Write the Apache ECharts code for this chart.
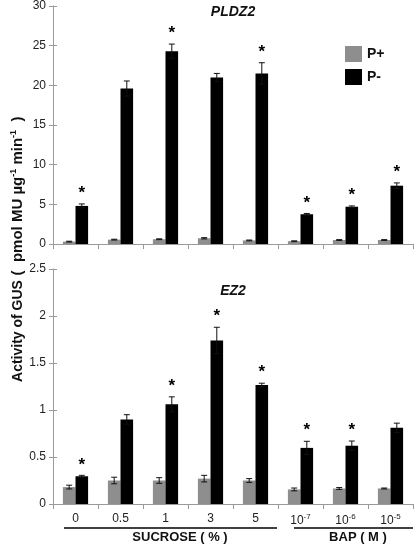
<!DOCTYPE html>
<html>
<head>
<meta charset="utf-8">
<script src="https://cdn.jsdelivr.net/npm/echarts@6/dist/echarts.min.js"></script>
<style>html,body{margin:0;padding:0;background:#fff;}#c{width:418px;height:546px;}</style>
</head>
<body>
<div id="c"></div>
<script>
const categories = ['0', '0.5', '1', '3', '5', '10^-7', '10^-6', '10^-5'];
const pldzPplus = [0.3, 0.55, 0.6, 0.72, 0.45, 0.35, 0.5, 0.5];
const pldzPplusErr = [0.05, 0.05, 0.05, 0.08, 0.05, 0.05, 0.05, 0.05];
const pldzPminus = [4.8, 19.6, 24.3, 21.0, 21.5, 3.75, 4.7, 7.35];
const pldzPminusErr = [0.25, 0.95, 0.9, 0.5, 1.35, 0.1, 0.1, 0.35];
const pldzStars = [1, 0, 1, 0, 1, 1, 1, 1];
const ezPplus = [0.18, 0.25, 0.25, 0.27, 0.25, 0.155, 0.165, 0.165];
const ezPplusErr = [0.02, 0.035, 0.03, 0.035, 0.02, 0.015, 0.01, 0.005];
const ezPminus = [0.295, 0.9, 1.06, 1.74, 1.265, 0.597, 0.62, 0.81];
const ezPminusErr = [0.01, 0.05, 0.08, 0.14, 0.02, 0.07, 0.05, 0.05];
const ezStars = [1, 0, 1, 1, 1, 1, 1, 0];
const pldzTicks = [0, 30, 5];
const ezTicks = [0, 2.5, 0.5];

const FONT = 'Liberation Sans, Arial, sans-serif';
const GRAY = '#8e8e8e';
const AXIS = '#9a9a9a';
const CAT_GAP = 0.44;

const chart = echarts.init(document.getElementById('c'));

function errRender(sign) {
  return function (params, api) {
    const i = api.value(0), v = api.value(1), e = api.value(2), star = api.value(3);
    const band = api.size([1, 0])[0];
    const bw = band * (1 - CAT_GAP) / 2;
    const c = api.coord([i, v]);
    const cx = c[0] + sign * bw / 2;
    const top = api.coord([i, v + e])[1];
    const bot = api.coord([i, v - e])[1];
    const col = '#111';
    const children = [
      {type: 'line', shape: {x1: cx, y1: bot, x2: cx, y2: top}, style: {stroke: col, lineWidth: 1}},
      {type: 'line', shape: {x1: cx - 3, y1: top, x2: cx + 3, y2: top}, style: {stroke: col, lineWidth: 1}},
      {type: 'line', shape: {x1: cx - 3, y1: bot, x2: cx + 3, y2: bot}, style: {stroke: col, lineWidth: 1}}
    ];
    if (star) {
      children.push({type: 'text', style: {text: '*', x: cx, y: top - 2, align: 'center', verticalAlign: 'bottom',
        font: 'bold 17px ' + FONT, fill: '#000'}});
    }
    return {type: 'group', children: children};
  };
}

function mk(vals, errs, stars) {
  return categories.map((c, i) => [i, vals[i], errs[i], stars ? stars[i] : 0]);
}

const catLabel = {
  show: true, interval: 0, margin: 9, color: '#222', fontFamily: FONT, fontSize: 12,
  formatter: function (v) {
    if (v.indexOf('10^') === 0) return '10{sup|' + v.slice(3) + '}';
    return v;
  },
  rich: {sup: {fontSize: 8, verticalAlign: 'top', padding: [0, 0, 8, 0], color: '#222', fontFamily: FONT}}
};

function xAx(gi, showLabel) {
  return {
    type: 'category', gridIndex: gi, data: categories,
    axisLine: {lineStyle: {color: AXIS, width: 1}},
    axisTick: {show: true, interval: 0, length: 5, lineStyle: {color: AXIS}},
    axisLabel: showLabel ? catLabel : {show: false},
    splitLine: {show: false}
  };
}
function yAx(gi, t, inside) {
  return {
    type: 'value', gridIndex: gi, min: t[0], max: t[1], interval: t[2], position: 'left',
    axisLine: {show: !inside, lineStyle: {color: AXIS, width: 1}},
    axisTick: {show: true, inside: inside, length: 4, lineStyle: {color: AXIS}},
    axisLabel: inside ? {show: false} : {margin: 7, color: '#222', fontFamily: FONT, fontSize: 12},
    splitLine: {show: false}
  };
}

const option = {
  animation: false,
  backgroundColor: '#fff',
  grid: [
    {left: 53, top: 6, width: 360, height: 238},
    {left: 53, top: 269, width: 360, height: 235}
  ],
  xAxis: [xAx(0, false), xAx(1, true)],
  yAxis: [yAx(0, pldzTicks, false), yAx(1, ezTicks, false), yAx(0, pldzTicks, true), yAx(1, ezTicks, true)],
  legend: {
    data: ['P+', 'P-'], orient: 'vertical', left: 340, top: 41, itemWidth: 17, itemHeight: 16, itemGap: 7,
    icon: 'rect', textStyle: {fontFamily: FONT, fontWeight: 'bold', fontSize: 14, color: '#111'}
  },
  title: [
    {text: 'PLDZ2', left: 228, top: 0, textAlign: 'center',
      textStyle: {fontFamily: FONT, fontWeight: 'bold', fontStyle: 'italic', fontSize: 14, color: '#111'}},
    {text: 'EZ2', left: 228, top: 279, textAlign: 'center',
      textStyle: {fontFamily: FONT, fontWeight: 'bold', fontStyle: 'italic', fontSize: 14, color: '#111'}}
  ],
  graphic: [
    {type: 'text', x: 18, y: 331, rotation: Math.PI / 2,
      style: {text: 'Activity of GUS', align: 'center', verticalAlign: 'middle',
        font: 'bold 14px ' + FONT, fill: '#111'}},
    {type: 'text', x: 18, y: 196, rotation: Math.PI / 2,
      style: {text: '(  pmol MU µg{s|-1} min{s|-1}  )', align: 'center', verticalAlign: 'middle',
        font: 'bold 15px ' + FONT, fill: '#111',
        rich: {s: {fontSize: 9, fontWeight: 'bold', fontFamily: FONT, verticalAlign: 'top', padding: [0, 0, 8, 0], fill: '#111'}}}},
    {type: 'line', shape: {x1: 64, y1: 528, x2: 277, y2: 528}, style: {stroke: '#000', lineWidth: 1.3}},
    {type: 'line', shape: {x1: 294, y1: 528, x2: 413, y2: 528}, style: {stroke: '#000', lineWidth: 1.3}},
    {type: 'text', x: 180, y: 537, style: {text: 'SUCROSE ( % )', align: 'center', verticalAlign: 'middle',
      font: 'bold 13px ' + FONT, fill: '#111'}},
    {type: 'text', x: 358, y: 537, style: {text: 'BAP ( M )', align: 'center', verticalAlign: 'middle',
      font: 'bold 13px ' + FONT, fill: '#111'}}
  ],
  series: [
    {name: 'P+', type: 'bar', xAxisIndex: 0, yAxisIndex: 0, data: pldzPplus, barGap: '0%', barCategoryGap: '44%',
      itemStyle: {color: GRAY}},
    {name: 'P-', type: 'bar', xAxisIndex: 0, yAxisIndex: 0, data: pldzPminus, barGap: '0%', barCategoryGap: '44%',
      itemStyle: {color: '#000'}},
    {name: 'P+', type: 'bar', xAxisIndex: 1, yAxisIndex: 1, data: ezPplus, barGap: '0%', barCategoryGap: '44%',
      itemStyle: {color: GRAY}},
    {name: 'P-', type: 'bar', xAxisIndex: 1, yAxisIndex: 1, data: ezPminus, barGap: '0%', barCategoryGap: '44%',
      itemStyle: {color: '#000'}},
    {type: 'custom', xAxisIndex: 0, yAxisIndex: 0, z: 5, renderItem: errRender(-1), data: mk(pldzPplus, pldzPplusErr)},
    {type: 'custom', xAxisIndex: 0, yAxisIndex: 0, z: 5, renderItem: errRender(1), data: mk(pldzPminus, pldzPminusErr, pldzStars)},
    {type: 'custom', xAxisIndex: 1, yAxisIndex: 1, z: 5, renderItem: errRender(-1), data: mk(ezPplus, ezPplusErr)},
    {type: 'custom', xAxisIndex: 1, yAxisIndex: 1, z: 5, renderItem: errRender(1), data: mk(ezPminus, ezPminusErr, ezStars)}
  ]
};
chart.setOption(option);
</script>
</body>
</html>
